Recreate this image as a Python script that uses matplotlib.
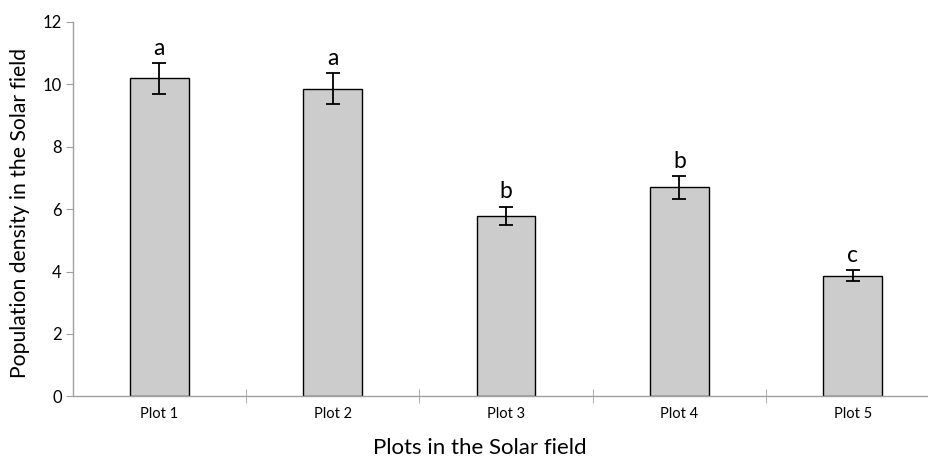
import matplotlib
matplotlib.use("Agg")
from matplotlib import pyplot as plt
import numpy as np

plots = ["Plot 1", "Plot 2", "Plot 3", "Plot 4", "Plot 5"]
density = [10.19, 9.86, 5.79, 6.70, 3.87]
err = [0.50, 0.49, 0.29, 0.36, 0.18]
letters = ["a", "a", "b", "b", "c"]

plt.rcParams['font.family'] = ['Lato', 'DejaVu Sans']

fig = plt.figure(figsize=[9.29, 4.57], dpi=100)
ax = fig.add_axes([0.0783, 0.1328, 0.9328, 0.8191])

x = np.arange(len(plots))
ax.bar(x, density, width=0.34, color='#cccccc', edgecolor='black', linewidth=1.0, zorder=2)
ax.errorbar(x, density, yerr=err, fmt='none', ecolor='black', elinewidth=1.3,
            capsize=5, capthick=1.3, zorder=3)

for xi, yi, ei, lab in zip(x, density, err, letters):
  ax.annotate(lab, xy=(xi, yi + ei), xytext=(0, 3), textcoords='offset points',
              ha='center', va='bottom', fontsize=16.5)

ax.set_xlim(-0.5, len(plots) - 0.5)
ax.set_ylim(0, 12)
ax.set_yticks(np.arange(0, 13, 2))
ax.set_xticks(x)
ax.set_xticklabels(plots, fontsize=10.5)
ax.set_xticks(np.arange(0.5, len(plots) - 0.5, 1), minor=True)
ax.tick_params(axis='x', which='major', length=0, pad=8)
ax.tick_params(axis='x', which='minor', direction='inout', length=10, color='#a0a0a0')
ax.tick_params(axis='y', direction='out', length=5, color='#a0a0a0', labelsize=12, pad=3)

for s in ['top', 'right']:
  ax.spines[s].set_visible(False)
for s in ['left', 'bottom']:
  ax.spines[s].set_color('#a0a0a0')
  ax.spines[s].set_linewidth(1.0)

ax.set_xlabel("Plots in the Solar field", fontsize=16, va='baseline')
ax.set_ylabel("Population density in the Solar field", fontsize=15.2)
ax.xaxis.set_label_coords(0.47, -0.155)
ax.yaxis.set_label_coords(-0.049, 0.49)

fig.savefig("out.png", dpi=100)
